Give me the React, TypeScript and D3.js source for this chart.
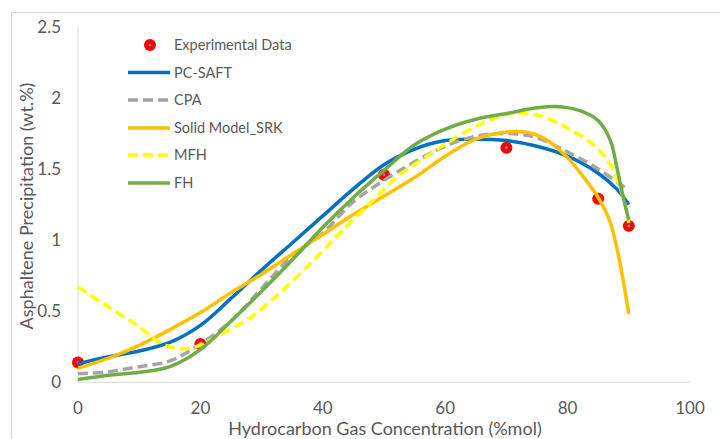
import React from "react";
import * as d3 from "d3";

// Experimental measurements
const expX = [0, 20, 50, 70, 85, 90];
const expY = [0.14, 0.27, 1.46, 1.65, 1.29, 1.1];

// Model predictions
const pcSaftX = [0, 5, 10, 15, 20, 25, 30, 35, 40, 45, 50, 55, 60, 65, 70, 75, 80, 85, 88, 90];
const pcSaftY = [0.13, 0.18, 0.22, 0.28, 0.4, 0.59, 0.79, 0.98, 1.17, 1.36, 1.53, 1.64, 1.7, 1.71, 1.7, 1.66, 1.59, 1.47, 1.36, 1.25];

const cpaX = [0, 5, 10, 15, 20, 25, 30, 35, 40, 45, 50, 55, 60, 65, 70, 75, 80, 85, 90];
const cpaY = [0.06, 0.075, 0.11, 0.15, 0.27, 0.43, 0.66, 0.89, 1.05, 1.27, 1.42, 1.55, 1.66, 1.73, 1.75, 1.72, 1.62, 1.5, 1.35];

const srkX = [0, 5, 10, 15, 20, 25, 30, 35, 40, 45, 50, 55, 60, 65, 70, 73, 76, 80, 83, 85, 87, 88.5, 90];
const srkY = [0.1, 0.17, 0.26, 0.37, 0.49, 0.63, 0.76, 0.9, 1.04, 1.18, 1.31, 1.44, 1.59, 1.71, 1.76, 1.76, 1.72, 1.58, 1.42, 1.3, 1.12, 0.85, 0.48];

const mfhX = [0, 5, 10, 13, 15, 17, 20, 23, 28, 33, 39, 43, 48, 52, 57, 61, 66, 71, 75, 79, 83, 85, 87, 88.5, 89.5, 90];
const mfhY = [0.67, 0.53, 0.39, 0.29, 0.25, 0.235, 0.26, 0.33, 0.45, 0.63, 0.88, 1.06, 1.27, 1.44, 1.59, 1.7, 1.82, 1.89, 1.88, 1.81, 1.71, 1.64, 1.53, 1.38, 1.23, 1.12];

const fhX = [0, 5, 10, 15, 20, 25, 30, 35, 40, 45, 50, 55, 60, 65, 70, 75, 78, 82, 85, 87, 88, 89, 90];
const fhY = [0.02, 0.05, 0.07, 0.11, 0.23, 0.43, 0.64, 0.86, 1.09, 1.3, 1.49, 1.67, 1.78, 1.85, 1.89, 1.93, 1.94, 1.91, 1.84, 1.7, 1.52, 1.32, 1.14];

const xTicks = [0, 20, 40, 60, 80, 100];
const yTicks = [0, 0.5, 1, 1.5, 2, 2.5];

const seriesNames = ["PC-SAFT", "CPA", "Solid Model_SRK", "MFH", "FH"];
const seriesColors = ["#0070C0", "#A5A5A5", "#FFC000", "#FFFF00", "#70AD47"];
const seriesDash = [null, "10,5", null, "10,5", null];
const seriesXs = [pcSaftX, cpaX, srkX, mfhX, fhX];
const seriesYs = [pcSaftY, cpaY, srkY, mfhY, fhY];

const W = 720;
const H = 439;
const FONT = "Lato, 'Open Sans', sans-serif";
const TEXT = "#595959";

export default function App() {
  const x = d3.scaleLinear().domain([0, 100]).range([78, 690]);
  const y = d3.scaleLinear().domain([0, 2.5]).range([382.3, 26.8]);

  const line = d3
    .line<[number, number]>()
    .x((d) => x(d[0]))
    .y((d) => y(d[1]))
    .curve(d3.curveCatmullRom.alpha(0.5));

  const legendX0 = 128;
  const legendX1 = 170;
  const legendRowY = [45, 72.5, 100, 128, 155, 183];

  return (
    <svg
      width={W}
      height={H}
      style={{ position: "absolute", left: 0, top: 0, background: "#fff" }}
      fontFamily={FONT}
    >
      <rect x={0} y={0} width={W} height={H} fill="#fff" />
      {/* chart frame */}
      <rect x={11.5} y={12.5} width={W + 10} height={H + 10} fill="none" stroke="#D9D9D9" strokeWidth={1} />

      {/* axes */}
      <line x1={x(0)} x2={x(0)} y1={y(2.5)} y2={y(0)} stroke="#D9D9D9" strokeWidth={1} />
      <line x1={x(0)} x2={x(100)} y1={y(0)} y2={y(0)} stroke="#D9D9D9" strokeWidth={1} />

      {yTicks.map((t) => (
        <text key={"y" + t} x={61} y={y(t)} dy="0.35em" textAnchor="end" fontSize={17} fill={TEXT}>
          {String(t)}
        </text>
      ))}
      {xTicks.map((t) => (
        <text key={"x" + t} x={x(t)} y={408} dy="0.35em" textAnchor="middle" fontSize={17} fill={TEXT}>
          {String(t)}
        </text>
      ))}

      <text x={385} y={429} dy="0.35em" textAnchor="middle" fontSize={18} fill={TEXT}>
        Hydrocarbon Gas Concentration (%mol)
      </text>
      <text
        transform={`translate(27,206) rotate(-90)`}
        dy="0.35em"
        textAnchor="middle"
        fontSize={18}
        fill={TEXT}
      >
        Asphaltene Precipitation (wt.%)
      </text>

      {/* experimental points */}
      {expX.map((vx, i) => (
        <g key={"e" + i}>
          <circle cx={x(vx)} cy={y(expY[i])} r={6} fill="#FF0000" />
          <circle cx={x(vx)} cy={y(expY[i])} r={1.3} fill="#5B9BD5" />
        </g>
      ))}

      {/* model curves */}
      {seriesXs.map((xs, i) => (
        <path
          key={"s" + i}
          d={line(xs.map((v, j) => [v, seriesYs[i][j]]) as [number, number][]) || ""}
          fill="none"
          stroke={seriesColors[i]}
          strokeWidth={3.5}
          strokeDasharray={seriesDash[i] || undefined}
          strokeLinejoin="round"
        />
      ))}

      {/* legend */}
      <circle cx={150} cy={legendRowY[0]} r={6} fill="#FF0000" />
      <circle cx={150} cy={legendRowY[0]} r={1.3} fill="#5B9BD5" />
      <text x={174} y={legendRowY[0]} dy="0.35em" fontSize={14.5} fill={TEXT}>
        Experimental Data
      </text>
      {seriesNames.map((name, i) => (
        <g key={"l" + i}>
          <line
            x1={legendX0}
            x2={legendX1}
            y1={legendRowY[i + 1]}
            y2={legendRowY[i + 1]}
            stroke={seriesColors[i]}
            strokeWidth={3.5}
            strokeDasharray={seriesDash[i] || undefined}
          />
          <text x={174} y={legendRowY[i + 1]} dy="0.35em" fontSize={14.5} fill={TEXT}>
            {name}
          </text>
        </g>
      ))}
    </svg>
  );
}
